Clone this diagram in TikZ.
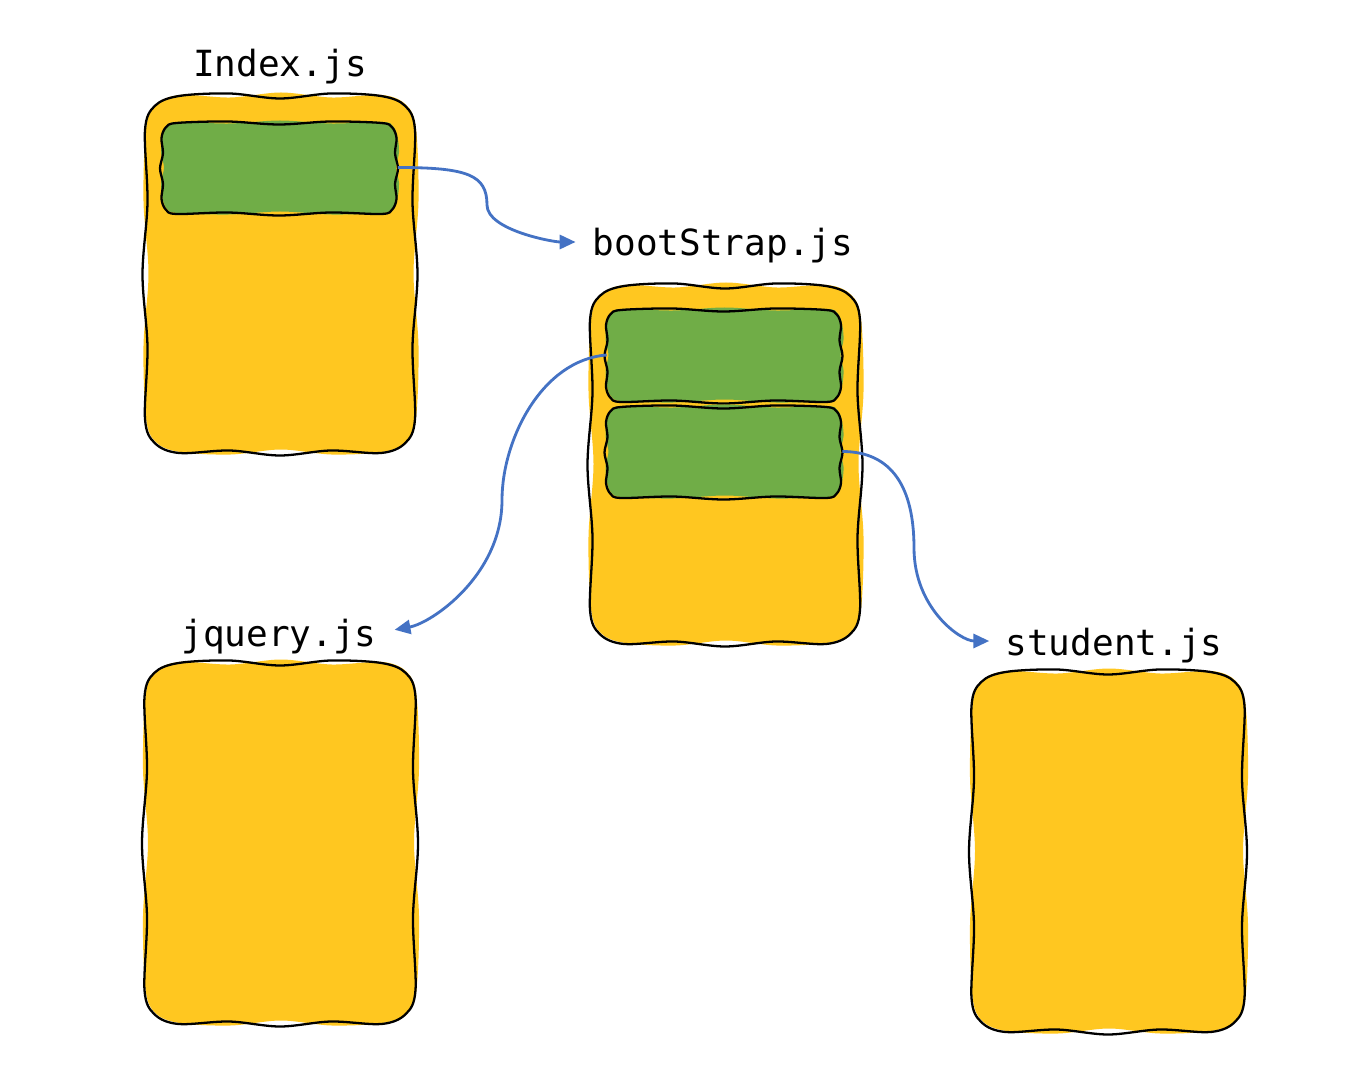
\documentclass[tikz,border=0pt]{standalone}
\usepackage{fontspec}
\setmonofont{DejaVu Sans Mono}
\usetikzlibrary{arrows.meta}
\definecolor{yel}{HTML}{FFC720}
\definecolor{grn}{HTML}{70AD47}
\definecolor{blu}{HTML}{4472C4}
% #1 style, #2 node, #3 half width, #4 half height, #5 corner radius, #6 wobble
\newcommand{\blobshape}[6]{%
  \begin{scope}[shift={(#2.center)}]
  \def\A{#3}\def\B{#4}\def\R{#5}\def\W{#6}%
  \path[#1] plot[smooth cycle, tension=0.55] coordinates {
    ({-\A+\R},{-\B}) ({-(\A-\R)/2},{-\B+\W}) (0,{-\B-\W}) ({(\A-\R)/2},{-\B+\W}) ({\A-\R},{-\B})
    ({\A-0.29*\R},{-\B+0.29*\R})
    ({\A},{-\B+\R}) ({\A+\W},{-(\B-\R)/2}) ({\A-\W},0) ({\A+\W},{(\B-\R)/2}) ({\A},{\B-\R})
    ({\A-0.29*\R},{\B-0.29*\R})
    ({\A-\R},{\B}) ({(\A-\R)/2},{\B+\W}) (0,{\B-\W}) ({-(\A-\R)/2},{\B+\W}) ({-\A+\R},{\B})
    ({-\A+0.29*\R},{\B-0.29*\R})
    ({-\A},{\B-\R}) ({-\A-\W},{(\B-\R)/2}) ({-\A+\W},0) ({-\A-\W},{-(\B-\R)/2}) ({-\A},{-\B+\R})
    ({-\A+0.29*\R},{-\B+0.29*\R})
  };
  \end{scope}}
\begin{document}
\begin{tikzpicture}[x=0.02cm,y=-0.02cm,
  place/.style={inner sep=0, draw=none, fill=none},
  yfill/.style={fill=yel},
  gfill/.style={fill=grn},
  edge/.style={draw=black, line width=1.3pt, shift={(-1,1)}},
  lbl/.style={font=\ttfamily\fontsize{20.5}{24}\selectfont, inner sep=0, anchor=base},
  conn/.style={draw=blu, line width=1.6pt, -{Triangle[length=9pt,width=8pt]}}]
\fill[white] (0,0) rectangle (1358,1087);
\useasboundingbox (0,0) rectangle (1358,1087);
% boxes (named placeholders)
\node[place, minimum width=5.4cm, minimum height=7.14cm] (ib) at (281,273.5) {};
\node[place, minimum width=5.4cm, minimum height=7.16cm] (bb) at (726,464) {};
\node[place, minimum width=5.42cm, minimum height=7.22cm] (jb) at (281,842.5) {};
\node[place, minimum width=5.46cm, minimum height=7.2cm] (sb) at (1109,851) {};
\node[place, minimum width=4.7cm, minimum height=1.82cm] (ig) at (280,167.5) {};
\node[place, minimum width=4.7cm, minimum height=1.84cm] (g1) at (724.5,355) {};
\node[place, minimum width=4.7cm, minimum height=1.82cm] (g2) at (724.5,451.5) {};
% yellow boxes
\blobshape{yfill}{ib}{135}{178.5}{34}{2.5}
\blobshape{edge}{ib}{135}{178.5}{34}{-2.5}
\blobshape{yfill}{bb}{135}{179}{34}{2.5}
\blobshape{edge}{bb}{135}{179}{34}{-2.5}
\blobshape{yfill}{jb}{135.5}{180.5}{34}{2.5}
\blobshape{edge}{jb}{135.5}{180.5}{34}{-2.5}
\blobshape{yfill}{sb}{136.5}{180}{34}{2.5}
\blobshape{edge}{sb}{136.5}{180}{34}{-2.5}
% green inner boxes
\blobshape{gfill}{ig}{117.5}{45.5}{15}{1.5}
\blobshape{edge}{ig}{117.5}{45.5}{15}{-1.5}
\blobshape{gfill}{g1}{117.5}{46}{15}{1.5}
\blobshape{edge}{g1}{117.5}{46}{15}{-1.5}
\blobshape{gfill}{g2}{117.5}{45.5}{15}{1.5}
\blobshape{edge}{g2}{117.5}{45.5}{15}{-1.5}
% labels
\node[lbl] (il) at (280,77) {Index.js};
\node[lbl] (bl) at (723,256) {bootStrap.js};
\node[lbl] (jl) at (279,646) {jquery.js};
\node[lbl] (sl) at (1114,655) {student.js};
% connectors
\draw[conn, shorten >=0.34cm] (ig.east) .. controls +(70,0) and +(0,-30) .. (487,205)
  .. controls +(0,25) and +(-40,0) .. (bl.west |- 0,242);
\draw[conn, shorten >=0.36cm] (g1.west) .. controls +(-65,5) and +(0,-60) .. (502,500)
  .. controls +(0,75) and +(55,-10) .. (jl.east |- 0,633);
\draw[conn, shorten >=0.32cm] (g2.east) .. controls +(50,0) and +(0,-60) .. (914,548)
  .. controls +(0,60) and +(-45,0) .. (sl.west |- 0,641);
\end{tikzpicture}
\end{document}
